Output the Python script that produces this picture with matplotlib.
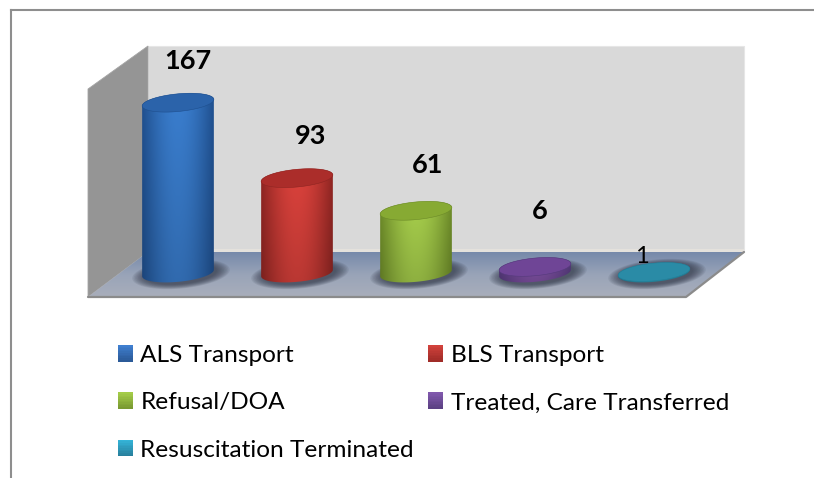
import numpy as np
import matplotlib
matplotlib.use("Agg")
import matplotlib.pyplot as plt
from matplotlib.colors import LinearSegmentedColormap, to_rgb
from matplotlib.legend_handler import HandlerBase
from matplotlib.patches import Patch, Polygon, Rectangle

plt.rcParams['font.family'] = ['Lato', 'DejaVu Sans']

categories = ["ALS Transport", "BLS Transport", "Refusal/DOA",
              "Treated, Care Transferred", "Resuscitation Terminated"]
values = [167, 93, 61, 6, 1]

edge_colors = ["#1f4f8e", "#8e2522", "#6c8a28", "#553a7c", "#24809a"]
mid_colors = ["#3a7ecf", "#dc423c", "#a8d04c", "#7f51a3", "#2c93ad"]
top_colors = ["#2b63aa", "#ab2d2a", "#87aa33", "#6f4596", "#2a8ba6"]
swatch_top = ["#3f7fd0", "#d2423c", "#a4cc48", "#8058ac", "#34b4d8"]
swatch_bottom = ["#2b5a98", "#a02c28", "#7a9a32", "#5c4184", "#287f9c"]

# label placement, pixels from the top of each cylinder
label_offsets = [(10, 42), (14, 42), (12, 46), (5, 56), (-12, 15)]

W, H = 814, 478
BASE_Y, PX_PER_VALUE = 273, 1.02
FIRST_X, STEP = 178, 119
RX, RY, TILT = 36, 8.8, np.radians(5.5)

fig = plt.figure(figsize=(W / 100, H / 100), dpi=100)

# pixel axes for the frame and the box of the 3d chart
bg = fig.add_axes([0, 0, 1, 1])
bg.axis("off")


def grad_image(axis, colors, extent, clip, zorder=1):
	cmap = LinearSegmentedColormap.from_list("g", colors)
	data = np.linspace(0, 1, 256)[:, None]
	im = axis.imshow(data, cmap=cmap, extent=extent, aspect="auto",
	                 origin="upper", zorder=zorder, interpolation="bilinear")
	im.set_clip_path(clip)
	return im


def body_image(axis, edge, mid, extent, clip, zorder=4):
	# light falls from the upper middle of the cylinder
	cmap = LinearSegmentedColormap.from_list("b", [edge, mid])
	xs = np.sin(np.pi * np.linspace(0, 1, 128))
	ys = np.linspace(0, 1, 128)
	rgb = cmap(xs)[None, :, :3] * (1.0 - 0.16 * ys)[:, None, None]
	im = axis.imshow(rgb, extent=extent, aspect="auto", origin="upper",
	                 zorder=zorder, interpolation="bilinear")
	im.set_clip_path(clip)
	return im


bg.plot([11, 11], [H, 10], color="#8e8e8e", lw=1.5)
bg.plot([11, W], [10, 10], color="#8e8e8e", lw=1.5)

bg.add_patch(Polygon([(148, 46), (744, 46), (744, 252), (148, 252)], fc="#d9d9d9", ec="#e6e6e6", lw=0.8, zorder=1))
bg.add_patch(Rectangle((148, 249), 596, 3, fc="#e4e1dc", ec="none", zorder=1))
bg.add_patch(Polygon([(88, 89), (148, 46), (148, 252), (88, 297)], fc="#959595", ec="#a5a5a5", lw=0.6, zorder=1))
floor = Polygon([(148, 252), (744, 252), (686, 297), (88, 297)], fc="none", ec="none", zorder=2)
bg.add_patch(floor)
grad_image(bg, ["#7689aa", "#99a4b8", "#a9aebb"], (88, 744, 297, 252), floor, zorder=2)
bg.plot([88, 686, 744], [297, 297, 252], color="#8b8b8b", lw=1.6, zorder=3, solid_capstyle="round")
bg.set_xlim(0, W)
bg.set_ylim(H, 0)

# chart axes: x is the category, y is the value
ax = fig.add_axes([0, 0, 1, 1], facecolor="none")
ax.axis("off")


def ellipse(i, val, rx=RX, ry=RY):
	t = np.linspace(0, 2 * np.pi, 240, endpoint=False)
	dx = rx * np.cos(t) * np.cos(TILT) - ry * np.sin(t) * np.sin(TILT)
	dy = rx * np.cos(t) * np.sin(TILT) + ry * np.sin(t) * np.cos(TILT)
	return np.column_stack((i + dx / STEP, val + dy / PX_PER_VALUE))


def body_outline(i, val):
	top = ellipse(i, val)
	bottom = ellipse(i, 0)
	left, right = np.argmin(top[:, 0]), np.argmax(top[:, 0])
	# points run counter clockwise: right to left over the top, left to right under the bottom
	n = len(top)
	over = top[[(right + k) % n for k in range((left - right) % n + 1)]]
	under = bottom[[(left + k) % n for k in range((right - left) % n + 1)]]
	return np.vstack((over, under))


for i, val in enumerate(values):
	# soft shadow on the floor
	for scale in np.linspace(1.36, 1.0, 10):
		pts = ellipse(i + 3 / STEP, -1 / PX_PER_VALUE, RX * scale, RY * (1 + (scale - 1) * 1.2) * 1.15)
		ax.add_patch(Polygon(pts, fc="#2e3444", ec="none", alpha=0.1, zorder=3))

	body = Polygon(body_outline(i, val), fc="none", ec="none", zorder=4)
	ax.add_patch(body)
	extent = (i - (RX + 1) / STEP, i + (RX + 1) / STEP, -12 / PX_PER_VALUE, val + 12 / PX_PER_VALUE)
	body_image(ax, edge_colors[i], mid_colors[i], extent, body)
	ax.add_patch(Polygon(ellipse(i, val), fc=top_colors[i], ec=edge_colors[i], lw=0.4, zorder=5))

ax.set_xlim(-FIRST_X / STEP, (W - FIRST_X) / STEP)
ax.set_ylim(-(H - BASE_Y) / PX_PER_VALUE, BASE_Y / PX_PER_VALUE)

for i, val in enumerate(values):
	small = i == len(values) - 1
	ax.annotate(str(val), (i, val), xytext=label_offsets[i], textcoords="offset pixels",
	            ha="center", va="center", fontsize=17 if small else 19.5,
	            fontweight="normal" if small else "bold", color="black", zorder=6)


class GradientSwatch(HandlerBase):
	def create_artists(self, legend, orig, xd, yd, width, height, fontsize, trans):
		top, bottom = np.array(to_rgb(orig.top)), np.array(to_rgb(orig.bottom))
		strips = []
		for k in range(10):
			f = k / 9
			strips.append(Rectangle((-xd, -yd + height * (1 - (k + 1) / 10)), width, height / 10 + 0.2,
			                        fc=top * (1 - f) + bottom * f, ec="none", transform=trans))
		return strips


# two columns, filled column by column
order = [0, 2, 4, 1, 3]
handles = []
for i in order:
	h = Patch(label=categories[i])
	h.top, h.bottom = swatch_top[i], swatch_bottom[i]
	handles.append(h)

ax.legend(handles=handles, ncol=2, loc="upper left", bbox_to_anchor=(118 / W, 1 - 345 / H),
          bbox_transform=fig.transFigure, frameon=False, fontsize=17.6, borderpad=0, borderaxespad=0,
          handlelength=0.62, handleheight=0.66, handletextpad=0.3, labelspacing=1.08, columnspacing=0.57,
          handler_map={Patch: GradientSwatch()})

fig.savefig("out.png", dpi=100)
